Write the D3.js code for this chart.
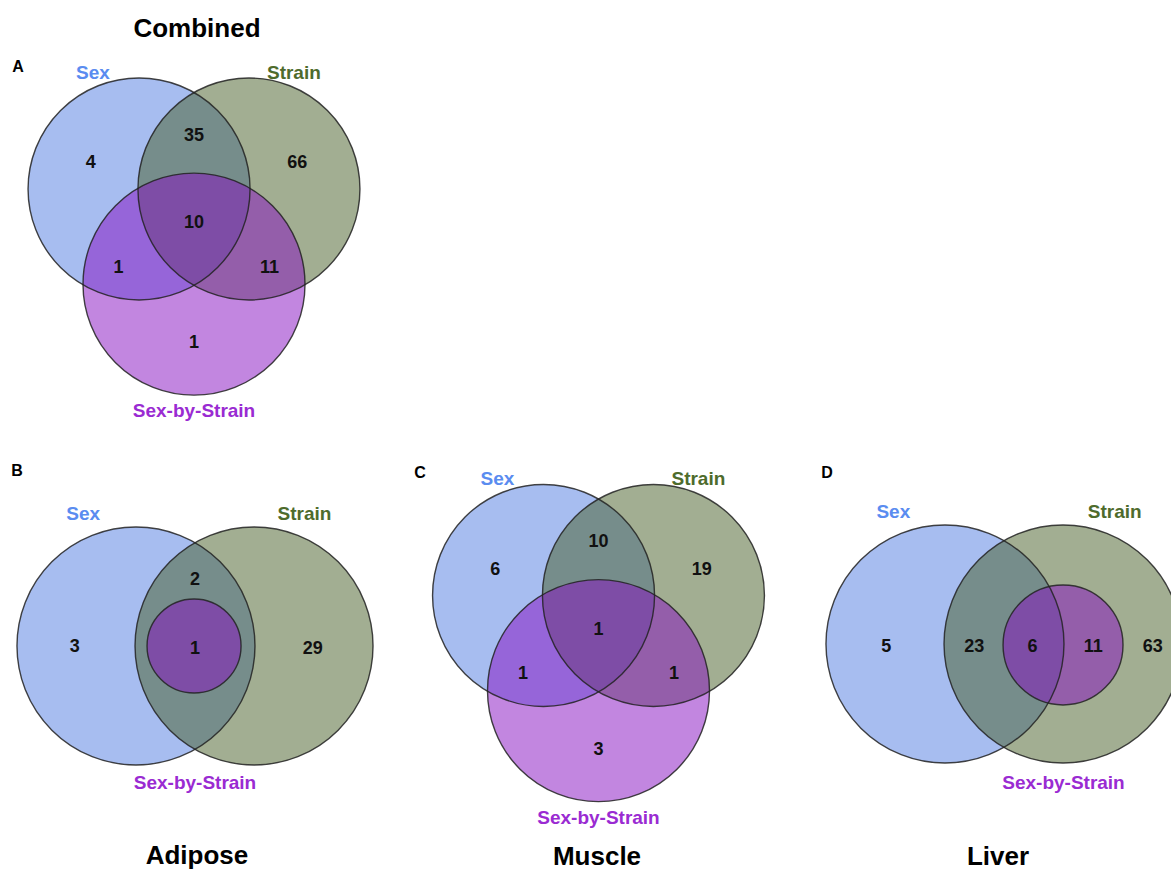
<!DOCTYPE html>
<html lang="en">
<head>
<meta charset="utf-8">
<title>Venn diagrams</title>
<script src="https://cdnjs.cloudflare.com/ajax/libs/d3/7.8.5/d3.min.js"></script>
<style>
  body { margin: 0; background: #fff; }
  svg text { font-family: "Liberation Sans", Arial, Helvetica, sans-serif; font-weight: bold; }
</style>
</head>
<body>
<script>
// set names and colours
var setNames = ["Sex", "Strain", "Sex-by-Strain"];
var setColors = ["#4f7be1", "#455d25", "#850dc1"];
var labelColors = ["#5a8cf0", "#4e6b2c", "#9a2bd2"];

var panelLetters = ["A", "B", "C", "D"];
var panelTitles = ["Combined", "Adipose", "Muscle", "Liver"];

// region counts, in the order of each layout's region list
var combinedCounts = [4, 35, 66, 10, 1, 11, 1];
var adiposeCounts = [3, 2, 1, 29];
var muscleCounts = [6, 10, 19, 1, 1, 1, 3];
var liverCounts = [5, 23, 6, 11, 63];

var width = 1171, height = 872;

// unit geometry (circle radius 1)
var s = 0.99, h = s * Math.sqrt(3) / 6;
var threeWay = {
  circles: [[-s / 2, -h, 1], [s / 2, -h, 1], [0, 2 * h, 1]],
  regions: [[-0.93, -0.53], [0, -0.78], [0.93, -0.53], [0, 0.01], [-0.68, 0.41], [0.68, 0.41], [0, 1.09]],
  labels: [[-0.91, -1.34], [0.9, -1.34], [0, 1.71]]
};

var panels = [
  { letter: panelLetters[0], title: panelTitles[0], counts: combinedCounts, geo: threeWay,
    cx: 194, cy: 220.7, r: 111, titlePos: [197, 28], letterPos: [18, 66] },
  { letter: panelLetters[1], title: panelTitles[1], counts: adiposeCounts,
    geo: {
      circles: [[-0.496, 0, 1], [0.496, 0, 1], [-0.008, 0, 0.395]],
      regions: [[-1.01, 0], [0, -0.57], [0, 0.01], [0.99, 0.01]],
      labels: [[-0.94, -1.12], [0.92, -1.12], [0, 1.14]]
    },
    cx: 195, cy: 646, r: 119, titlePos: [197, 855], letterPos: [17, 470] },
  { letter: panelLetters[2], title: panelTitles[2], counts: muscleCounts, geo: threeWay,
    cx: 598.5, cy: 627.2, r: 111, titlePos: [597, 856], letterPos: [420, 472] },
  { letter: panelLetters[3], title: panelTitles[3], counts: liverCounts,
    geo: {
      circles: [[-0.496, 0, 1], [0.496, 0, 1], [0.496, 0.008, 0.504]],
      regions: [[-0.99, 0.01], [-0.25, 0.01], [0.24, 0.01], [0.75, 0.01], [1.25, 0.01]],
      labels: [[-0.93, -1.12], [0.93, -1.12], [0.5, 1.16]]
    },
    cx: 1004, cy: 644, r: 119, titlePos: [998, 856], letterPos: [827, 472] }
];

var svg = d3.select("body").append("svg")
  .attr("width", width)
  .attr("height", height);

panels.forEach(function(p) {
  var x = d3.scaleLinear().domain([0, 1]).range([p.cx, p.cx + p.r]);
  var y = d3.scaleLinear().domain([0, 1]).range([p.cy, p.cy + p.r]);
  var g = svg.append("g");

  // fills (alpha blended) then outlines
  g.selectAll("circle.fill").data(p.geo.circles).enter().append("circle")
    .attr("class", "fill")
    .attr("cx", function(d) { return x(d[0]); })
    .attr("cy", function(d) { return y(d[1]); })
    .attr("r", function(d) { return d[2] * p.r; })
    .attr("fill", function(d, i) { return setColors[i]; })
    .attr("fill-opacity", 0.5);

  g.selectAll("circle.edge").data(p.geo.circles).enter().append("circle")
    .attr("class", "edge")
    .attr("cx", function(d) { return x(d[0]); })
    .attr("cy", function(d) { return y(d[1]); })
    .attr("r", function(d) { return d[2] * p.r; })
    .attr("fill", "none")
    .attr("stroke", "#222")
    .attr("stroke-opacity", 0.85)
    .attr("stroke-width", 1.4);

  // counts
  g.selectAll("text.count").data(p.counts).enter().append("text")
    .attr("class", "count")
    .attr("x", function(d, i) { return x(p.geo.regions[i][0]); })
    .attr("y", function(d, i) { return y(p.geo.regions[i][1]); })
    .attr("dy", "0.36em")
    .attr("text-anchor", "middle")
    .style("font-size", "18px")
    .style("fill", "#111")
    .text(function(d) { return d; });

  // set labels
  g.selectAll("text.set").data(setNames).enter().append("text")
    .attr("class", "set")
    .attr("x", function(d, i) { return x(p.geo.labels[i][0]); })
    .attr("y", function(d, i) { return y(p.geo.labels[i][1]); })
    .attr("dy", "0.36em")
    .attr("text-anchor", "middle")
    .style("font-size", "19px")
    .style("fill", function(d, i) { return labelColors[i]; })
    .text(function(d) { return d; });

  g.append("text")
    .attr("x", p.titlePos[0]).attr("y", p.titlePos[1])
    .attr("dy", "0.36em")
    .attr("text-anchor", "middle")
    .style("font-size", "26px")
    .style("fill", "#000")
    .text(p.title);

  g.append("text")
    .attr("x", p.letterPos[0]).attr("y", p.letterPos[1])
    .attr("dy", "0.36em")
    .attr("text-anchor", "middle")
    .style("font-size", "16px")
    .style("fill", "#000")
    .text(p.letter);
});
</script>
</body>
</html>
